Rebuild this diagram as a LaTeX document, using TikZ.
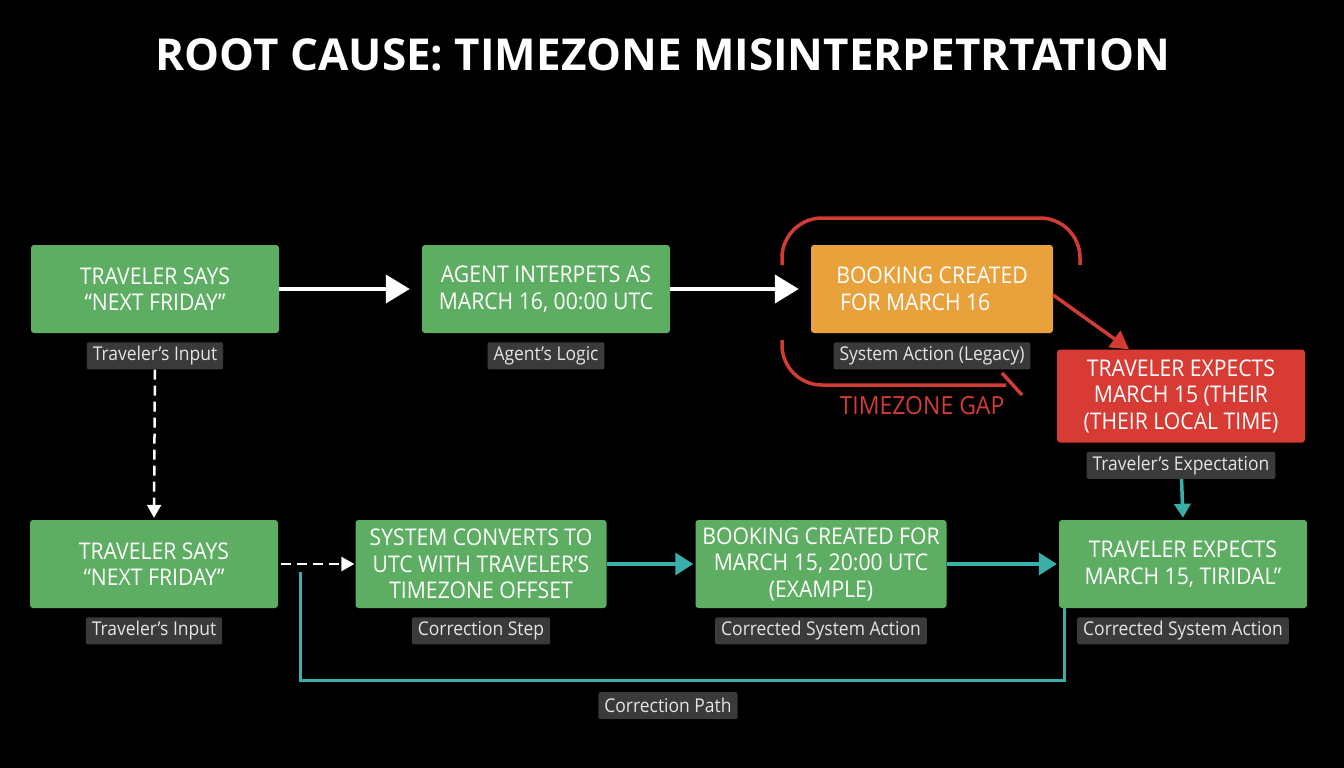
\documentclass[tikz,border=0pt]{standalone}
\usepackage{xcolor}
\usepackage{fontspec}
\setmainfont{Open Sans}[FakeStretch=0.92]
\newfontfamily\titlefont{Open Sans}
\usepackage{tikz}
\usetikzlibrary{arrows.meta,positioning}
\definecolor{boxgreen}{HTML}{5DAE62}
\definecolor{boxorange}{HTML}{E9A23B}
\definecolor{boxred}{HTML}{D83A34}
\definecolor{gapred}{HTML}{D33B35}
\definecolor{tagfill}{HTML}{3A3A3A}
\definecolor{tagtext}{HTML}{E4E4E4}
\definecolor{pathteal}{HTML}{3AAFA9}

\begin{document}
\begin{tikzpicture}[x=1pt,y=-1pt,
  stepbox/.style={rounded corners=3pt,minimum width=248pt,minimum height=88pt,
    align=center,text=white,font=\fontsize{23}{26.5}\selectfont,inner sep=0pt},
  greenbox/.style={stepbox,fill=boxgreen},
  tag/.style={fill=tagfill,text=tagtext,rounded corners=2pt,minimum height=27pt,
    inner xsep=6pt,inner ysep=0pt,font=\fontsize{19}{22}\selectfont},
  whitearrow/.style={white,line width=4pt,-{Triangle[length=24pt,width=28pt]},shorten >=12pt},
  dasharrow/.style={white,line width=2.5pt,dash pattern=on 10pt off 6pt,-{Triangle[length=13pt,width=14pt]}},
  tealarrow/.style={pathteal,line width=3.5pt,-{Triangle[length=18pt,width=22pt]}},
  gapline/.style={gapred,line width=3.5pt}]
\useasboundingbox[fill=black] (0,0) rectangle (1344,768);

% title
\node (title) at (663,55) {\titlefont\fontsize{44}{50}\selectfont\bfseries\color{white}ROOT CAUSE: TIMEZONE MISINTERPETRTATION};

% legacy flow
\node [greenbox] (A1) at (155,289) {TRAVELER SAYS\\“NEXT FRIDAY”};
\node [tag,below=9pt of A1] (A1t) {Traveler's Input};
\node [greenbox] (A2) at (546,289) {AGENT INTERPETS AS\\MARCH 16, 00:00 UTC};
\node [tag,below=9pt of A2] (A2t) {Agent's Logic};
\node [stepbox,fill=boxorange,minimum width=242pt,align=left] (A3) at (932,289) {BOOKING CREATED\\\,FOR MARCH 16};
\node [tag,below=9pt of A3] (A3t) {System Action (Legacy)};
\node [stepbox,fill=boxred,minimum height=93pt] (A4) at (1181,396) {TRAVELER EXPECTS\\MARCH 15 (THEIR\\(THEIR LOCAL TIME)};
\node [tag,below=9pt of A4] (A4t) {Traveler's Expectation};

\draw [whitearrow] (A1) -- (A2);
\draw [whitearrow] (A2) -- (A3);
\draw [gapred,line width=3.5pt,-{Triangle[length=18pt,width=20pt]}] ([yshift=-6pt]A3.east) -- ([xshift=-52pt]A4.north);

% timezone gap bracket
\draw [gapline,rounded corners=40pt] (782,265) |- (1080,218) -- (1080,265);
\draw [gapline,rounded corners=40pt] (782,340) |- (1006,385);
\draw [gapline] (1002,373) -- (1022,395);
\node [text=gapred,font=\fontsize{25}{28}\selectfont] (gap) at (922,406) {TIMEZONE GAP};

% corrected flow
\node [greenbox] (B1) at (154,564) {TRAVELER SAYS\\“NEXT FRIDAY”};
\node [tag,below=9pt of B1] (B1t) {Traveler's Input};
\node [greenbox,minimum width=251pt] (B2) at (481,564) {SYSTEM CONVERTS TO\\UTC WITH TRAVELER'S\\TIMEZONE OFFSET};
\node [tag,below=9pt of B2] (B2t) {Correction Step};
\node [greenbox,minimum width=251pt] (B3) at (821,564) {BOOKING CREATED FOR\\MARCH 15, 20:00 UTC\\(EXAMPLE)};
\node [tag,below=9pt of B3] (B3t) {Corrected System Action};
\node [greenbox] (B4) at (1183,564) {TRAVELER EXPECTS\\MARCH 15, TIRIDAL”};
\node [tag,below=9pt of B4] (B4t) {Corrected System Action};

\draw [dasharrow] (A1t) -- ([yshift=2pt]B1.north);
\draw [dasharrow] ([xshift=3pt]B1.east) -- ([xshift=-1pt]B2.west);
\draw [tealarrow] (B2) -- ([xshift=-2pt]B3.west);
\draw [tealarrow] (B3) -- ([xshift=-2pt]B4.west);
\draw [pathteal,line width=3.5pt,-{Triangle[length=14pt,width=16pt]}] (A4t) -- ([yshift=2pt]B4.north);

% correction path
\coordinate (cp1) at (300,572);
\coordinate (cpmid) at (668,680);
\draw [pathteal,line width=3pt] (cp1) |- (cpmid) -| ([xshift=6pt]B4.south west);
\node [tag,below=12pt of cpmid] (cpt) {Correction Path};
\end{tikzpicture}
\end{document}
